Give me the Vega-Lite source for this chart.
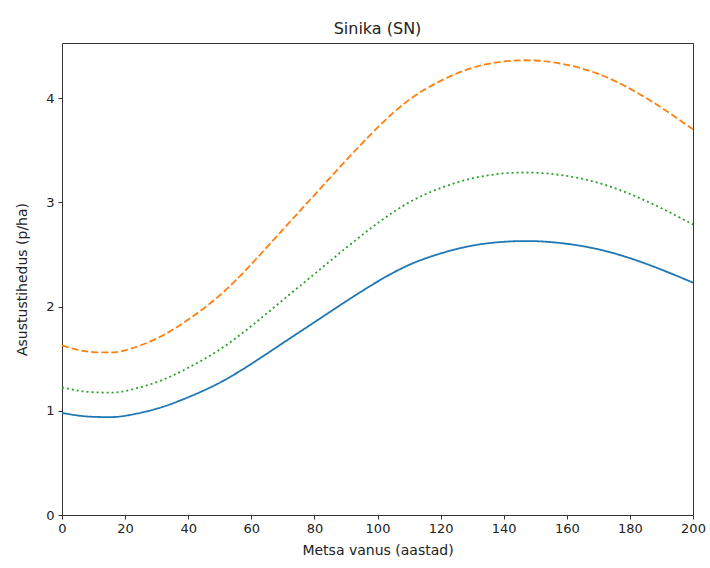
{
  "$schema": "https://vega.github.io/schema/vega-lite/v6.json",
  "autosize": "none",
  "width": 631,
  "height": 472,
  "padding": {"left": 62, "top": 43, "right": 17, "bottom": 53},
  "background": "white",
  "title": {"text": "Sinika (SN)", "fontSize": 16, "fontWeight": "normal", "font": "DejaVu Sans", "color": "#222", "offset": 6},
  "config": {
    "view": {"stroke": "#333", "strokeWidth": 1},
    "axis": {
      "grid": false,
      "domain": false,
      "tickColor": "#333",
      "tickSize": 4,
      "labelFont": "DejaVu Sans",
      "labelFontSize": 13,
      "labelColor": "#222",
      "titleFont": "DejaVu Sans",
      "titleFontSize": 14,
      "titleFontWeight": "normal",
      "titleColor": "#222",
      "labelFlush": false,
      "labelOverlap": false
    }
  },
  "data": {
    "values": [
      {"age": 0, "s": "a", "v": 0.98}, {"age": 5, "s": "a", "v": 0.955}, {"age": 10, "s": "a", "v": 0.942}, {"age": 15, "s": "a", "v": 0.94}, {"age": 20, "s": "a", "v": 0.952},
      {"age": 30, "s": "a", "v": 1.02}, {"age": 40, "s": "a", "v": 1.13}, {"age": 50, "s": "a", "v": 1.27}, {"age": 60, "s": "a", "v": 1.45}, {"age": 70, "s": "a", "v": 1.65},
      {"age": 80, "s": "a", "v": 1.85}, {"age": 90, "s": "a", "v": 2.05}, {"age": 100, "s": "a", "v": 2.24}, {"age": 110, "s": "a", "v": 2.40}, {"age": 120, "s": "a", "v": 2.51},
      {"age": 130, "s": "a", "v": 2.585}, {"age": 140, "s": "a", "v": 2.622}, {"age": 150, "s": "a", "v": 2.628}, {"age": 160, "s": "a", "v": 2.603}, {"age": 170, "s": "a", "v": 2.55},
      {"age": 180, "s": "a", "v": 2.465}, {"age": 190, "s": "a", "v": 2.355}, {"age": 200, "s": "a", "v": 2.23},

      {"age": 0, "s": "b", "v": 1.627}, {"age": 5, "s": "b", "v": 1.585}, {"age": 10, "s": "b", "v": 1.564}, {"age": 15, "s": "b", "v": 1.56}, {"age": 20, "s": "b", "v": 1.58},
      {"age": 30, "s": "b", "v": 1.693}, {"age": 40, "s": "b", "v": 1.876}, {"age": 50, "s": "b", "v": 2.108}, {"age": 60, "s": "b", "v": 2.407}, {"age": 70, "s": "b", "v": 2.739},
      {"age": 80, "s": "b", "v": 3.071}, {"age": 90, "s": "b", "v": 3.403}, {"age": 100, "s": "b", "v": 3.718}, {"age": 110, "s": "b", "v": 3.984}, {"age": 120, "s": "b", "v": 4.167},
      {"age": 130, "s": "b", "v": 4.291}, {"age": 140, "s": "b", "v": 4.353}, {"age": 150, "s": "b", "v": 4.362}, {"age": 160, "s": "b", "v": 4.321}, {"age": 170, "s": "b", "v": 4.233},
      {"age": 180, "s": "b", "v": 4.092}, {"age": 190, "s": "b", "v": 3.909}, {"age": 200, "s": "b", "v": 3.702},

      {"age": 0, "s": "c", "v": 1.225}, {"age": 5, "s": "c", "v": 1.194}, {"age": 10, "s": "c", "v": 1.178}, {"age": 15, "s": "c", "v": 1.175}, {"age": 20, "s": "c", "v": 1.19},
      {"age": 30, "s": "c", "v": 1.275}, {"age": 40, "s": "c", "v": 1.413}, {"age": 50, "s": "c", "v": 1.588}, {"age": 60, "s": "c", "v": 1.813}, {"age": 70, "s": "c", "v": 2.063},
      {"age": 80, "s": "c", "v": 2.313}, {"age": 90, "s": "c", "v": 2.563}, {"age": 100, "s": "c", "v": 2.8}, {"age": 110, "s": "c", "v": 3.0}, {"age": 120, "s": "c", "v": 3.138},
      {"age": 130, "s": "c", "v": 3.231}, {"age": 140, "s": "c", "v": 3.278}, {"age": 150, "s": "c", "v": 3.285}, {"age": 160, "s": "c", "v": 3.254}, {"age": 170, "s": "c", "v": 3.188},
      {"age": 180, "s": "c", "v": 3.081}, {"age": 190, "s": "c", "v": 2.944}, {"age": 200, "s": "c", "v": 2.788}
    ]
  },
  "mark": {"type": "line", "interpolate": "natural", "strokeWidth": 1.8},
  "encoding": {
    "x": {
      "field": "age", "type": "quantitative",
      "scale": {"domain": [0, 200], "nice": false, "zero": false},
      "axis": {"values": [0, 20, 40, 60, 80, 100, 120, 140, 160, 180, 200], "title": "Metsa vanus (aastad)", "labelPadding": 3, "titlePadding": 8}
    },
    "y": {
      "field": "v", "type": "quantitative",
      "scale": {"domain": [0, 4.53], "nice": false},
      "axis": {"values": [0, 1, 2, 3, 4], "title": "Asustustihedus (p/ha)", "labelPadding": 4, "titlePadding": 16}
    },
    "color": {
      "field": "s", "type": "nominal",
      "scale": {"domain": ["a", "b", "c"], "range": ["#1f77b4", "#ff7f0e", "#2ca02c"]},
      "legend": null
    },
    "strokeDash": {
      "field": "s", "type": "nominal",
      "scale": {"domain": ["a", "b", "c"], "range": [[1, 0], [7, 3], [2, 3]]},
      "legend": null
    }
  }
}
